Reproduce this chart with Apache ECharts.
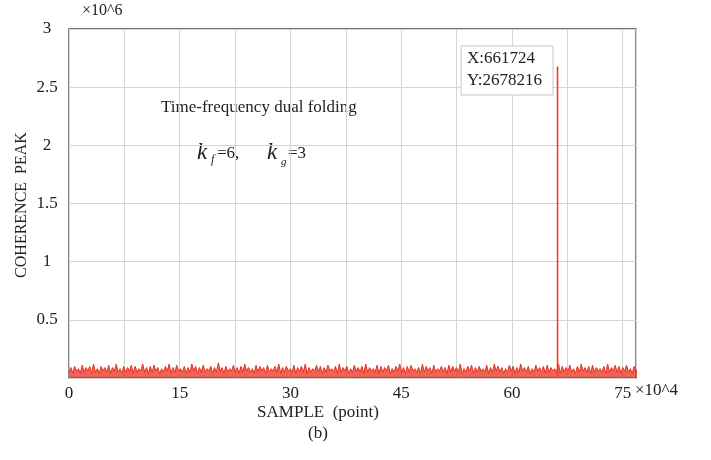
<!DOCTYPE html>
<html>
<head>
<meta charset="utf-8">
<script src="https://cdn.jsdelivr.net/npm/echarts@6/dist/echarts.min.js"></script>
<style>html,body{margin:0;padding:0;background:#fff;}#c{width:711px;height:460px;}</style>
</head>
<body>
<div id="c"></div>
<script>
// x in units of 10^4 samples, y in units of 10^6
const X_TICKS = [0, 15, 30, 45, 60, 75];
const Y_TICKS = [0.5, 1, 1.5, 2, 2.5, 3];
const NOISE_STEP = 0.256; // spacing of the noise samples (x10^4)
const NOISE = [
0.05,0.09,0.04,0.10,0.06,0.08,0.04,0.11,0.05,0.09,
0.06,0.10,0.04,0.12,0.05,0.08,0.04,0.10,0.06,0.09,
0.05,0.11,0.04,0.09,0.06,0.12,0.05,0.08,0.04,0.10,
0.05,0.09,0.06,0.11,0.04,0.10,0.05,0.08,0.06,0.12,
0.05,0.09,0.04,0.10,0.05,0.11,0.06,0.09,0.04,0.08,
0.05,0.10,0.06,0.12,0.04,0.09,0.05,0.11,0.06,0.08,
0.05,0.10,0.04,0.09,0.05,0.12,0.06,0.10,0.04,0.09,
0.05,0.11,0.05,0.08,0.06,0.10,0.04,0.09,0.05,0.13,
0.06,0.09,0.04,0.10,0.05,0.08,0.06,0.11,0.05,0.09,
0.04,0.10,0.05,0.12,0.06,0.09,0.05,0.08,0.04,0.11,
0.05,0.10,0.06,0.09,0.04,0.11,0.05,0.08,0.06,0.10,
0.05,0.12,0.04,0.09,0.05,0.10,0.06,0.08,0.05,0.11,
0.04,0.09,0.06,0.10,0.05,0.12,0.04,0.09,0.05,0.08,
0.06,0.11,0.05,0.10,0.04,0.09,0.05,0.11,0.06,0.08,
0.05,0.10,0.04,0.12,0.05,0.09,0.06,0.10,0.04,0.08,
0.05,0.11,0.06,0.09,0.05,0.10,0.04,0.12,0.05,0.09,
0.06,0.08,0.05,0.11,0.04,0.10,0.05,0.09,0.06,0.11,
0.04,0.08,0.05,0.10,0.06,0.12,0.05,0.09,0.04,0.10,
0.05,0.11,0.06,0.08,0.05,0.09,0.04,0.12,0.05,0.10,
0.06,0.09,0.04,0.11,0.05,0.08,0.06,0.10,0.05,0.09,
0.04,0.11,0.05,0.10,0.06,0.09,0.05,0.12,0.04,0.08,
0.05,0.10,0.06,0.11,0.04,0.09,0.05,0.10,0.06,0.08,
0.05,0.11,0.04,0.09,0.05,0.12,0.06,0.10,0.05,0.09,
0.04,0.08,0.05,0.11,0.06,0.10,0.04,0.09,0.05,0.12,
0.06,0.09,0.05,0.10,0.04,0.08,0.05,0.11,0.06,0.09,
0.05,0.10,0.04,0.11,0.05,0.09,0.06,0.08,0.05,0.12,
0.04,0.10,0.05,0.09,0.06,0.11,0.05,0.08,0.04,0.10,
0.05,0.12,0.06,0.09,0.05,0.10,0.04,0.11,0.05,0.09,
0.06,0.08,0.05,0.10,0.04,0.12,0.05,0.09,0.06,0.11,
0.05,0.10,0.04,0.09,0.06,0.11,0.05,0.08,0.04,0.10,
0.05,0.09
];
const PEAK_X = 66.1724;
const PEAK_Y = 2.678216;

const noiseData = NOISE.map((v, i) => [i * NOISE_STEP, v]);
const FONT = '"Liberation Serif", "DejaVu Serif", serif';
const RED = '#e8321f';

const chart = echarts.init(document.getElementById('c'), null, {renderer: 'canvas'});
chart.setOption({
  animation: false,
  backgroundColor: '#fff',
  grid: {left: 69, top: 29, right: 75, bottom: 82, show: true, borderColor: '#4a4a4a', borderWidth: 1.3, backgroundColor: 'transparent'},
  xAxis: {
    type: 'value', min: 0, max: 76.8, interval: 7.5,
    axisLine: {show: false}, axisTick: {show: false},
    splitLine: {show: true, lineStyle: {color: '#d4d4d4', width: 1}},
    axisLabel: {
      color: '#222', fontFamily: FONT, fontSize: 17, margin: 7,
      showMaxLabel: false,
      formatter: v => X_TICKS.indexOf(Math.round(v * 10) / 10) >= 0 ? String(v) : ''
    }
  },
  yAxis: {
    type: 'value', min: 0, max: 3, interval: 0.5,
    axisLine: {show: false}, axisTick: {show: false},
    splitLine: {show: true, lineStyle: {color: '#d4d4d4', width: 1}},
    axisLabel: {
      color: '#222', fontFamily: FONT, fontSize: 17, margin: 22, align: 'center',
      formatter: v => Y_TICKS.indexOf(v) >= 0 ? String(v) : ''
    }
  },
  series: [
    {type: 'line', data: noiseData, symbol: 'none', lineStyle: {color: RED, width: 1}, itemStyle: {color: RED},
     areaStyle: {color: RED, opacity: 0.75}, z: 3},
    {type: 'line', data: [[PEAK_X, 0], [PEAK_X, PEAK_Y]], symbol: 'none', lineStyle: {color: '#f03a2a', width: 1.6}, itemStyle: {color: '#f03a2a'}, z: 4}
  ],
  graphic: [
    {type: 'text', left: 82, top: 3, style: {text: '×10^6', font: '16px ' + FONT, fill: '#222'}},
    {type: 'text', left: 635, top: 382, style: {text: '×10^4', font: '17px ' + FONT, fill: '#222'}},
    {type: 'text', x: 22, y: 205, rotation: Math.PI / 2, style: {text: 'COHERENCE  PEAK', font: '16px ' + FONT, fill: '#222', align: 'center', verticalAlign: 'middle'}},
    {type: 'text', x: 318, y: 413, style: {text: 'SAMPLE  (point)', font: '17px ' + FONT, fill: '#222', align: 'center', verticalAlign: 'middle'}},
    {type: 'text', x: 318, y: 434, style: {text: '(b)', font: '17px ' + FONT, fill: '#222', align: 'center', verticalAlign: 'middle'}},
    {type: 'text', x: 161, y: 108, style: {text: 'Time-frequency dual folding', font: '17px ' + FONT, fill: '#222', verticalAlign: 'middle'}},
    {type: 'text', x: 197, y: 153, style: {text: 'k', font: 'italic 23px ' + FONT, fill: '#222', verticalAlign: 'middle'}},
    {type: 'text', x: 211, y: 160, style: {text: 'f', font: 'italic 12px ' + FONT, fill: '#222', verticalAlign: 'middle'}},
    {type: 'text', x: 217, y: 154, style: {text: '=6,', font: '17px ' + FONT, fill: '#222', verticalAlign: 'middle'}},
    {type: 'text', x: 267, y: 153, style: {text: 'k', font: 'italic 23px ' + FONT, fill: '#222', verticalAlign: 'middle'}},
    {type: 'text', x: 281, y: 162, style: {text: 'g', font: 'italic 11px ' + FONT, fill: '#222', verticalAlign: 'middle'}},
    {type: 'text', x: 288, y: 154, style: {text: '=3', font: '17px ' + FONT, fill: '#222', verticalAlign: 'middle'}},
    {type: 'rect', shape: {x: 461, y: 46, width: 92, height: 49}, style: {fill: '#fff', stroke: '#c8c8c8', lineWidth: 1}, z: 10},
    {type: 'text', x: 467, y: 59, style: {text: 'X:661724', font: '17px ' + FONT, fill: '#222', verticalAlign: 'middle'}, z: 11},
    {type: 'text', x: 467, y: 81, style: {text: 'Y:2678216', font: '17px ' + FONT, fill: '#222', verticalAlign: 'middle'}, z: 11}
  ]
});
</script>
</body>
</html>
